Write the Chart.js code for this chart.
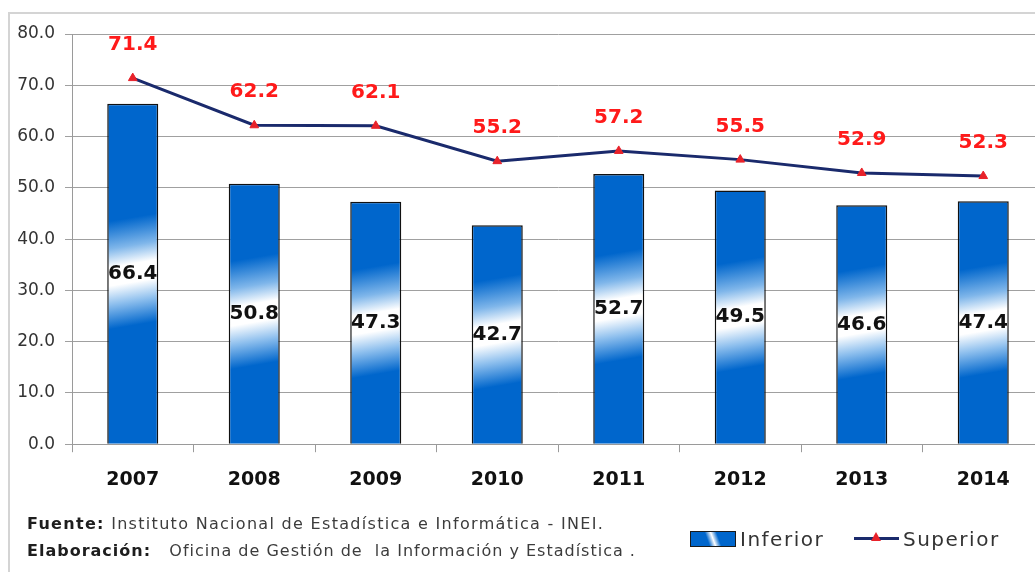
<!DOCTYPE html>
<html>
<head>
<meta charset="utf-8">
<script src="https://cdn.jsdelivr.net/npm/chart.js@4"></script>
<style>
  html, body { margin: 0; padding: 0; background: #fff; overflow: hidden; }
  body { width: 1035px; height: 572px; position: relative; font-family: "DejaVu Sans", sans-serif; }
  #frame { position: absolute; left: 8px; top: 12px; width: 1100px; height: 700px; border: 2px solid #d4d4d4; }
  #wrap { position: absolute; left: 0; top: 0; width: 1052px; height: 572px; }
  .foot { position: absolute; left: 27px; font-size: 16px; color: #3c3c3c; white-space: pre; }
  .foot b { color: #1e1e1e; }
  .leg { position: absolute; top: 527px; font-size: 20px; color: #333; letter-spacing: 1.5px; }
  #legBox { position: absolute; left: 690px; top: 531px; width: 44px; height: 14px; border: 1px solid #1a1a1a;
    background: linear-gradient(70deg, #0066cc 0%, #0066cc 38%, #ffffff 50%, #0066cc 62%, #0066cc 100%); }
  #legLine { position: absolute; left: 854px; top: 537px; width: 45px; height: 3px; background: #1a2a6c; }
  #legTri { position: absolute; left: 871px; top: 532px; width: 0; height: 0;
    border-left: 5px solid transparent; border-right: 5px solid transparent; border-bottom: 9px solid #e8222a; }
</style>
</head>
<body>
<div id="frame"></div>
<div id="wrap"><canvas id="myChart" width="1052" height="572"></canvas></div>
<div class="foot" style="top:514px; letter-spacing:1.3px"><b>Fuente:</b> Instituto Nacional de Estadística e Informática - INEI.</div>
<div class="foot" style="top:541px; letter-spacing:1px"><b>Elaboración:</b>   Oficina de Gestión de  la Información y Estadística .</div>
<div id="legBox"></div>
<div class="leg" style="left:740px">Inferior</div>
<div id="legLine"></div>
<div id="legTri"></div>
<div class="leg" style="left:903px">Superior</div>
<script>
var years = ['2007', '2008', '2009', '2010', '2011', '2012', '2013', '2014'];
var inferior = [66.4, 50.8, 47.3, 42.7, 52.7, 49.5, 46.6, 47.4];
var superior = [71.4, 62.2, 62.1, 55.2, 57.2, 55.5, 52.9, 52.3];
var yTicks = [0, 10, 20, 30, 40, 50, 60, 70, 80];

var BLUE = '#0066cc';

function barGradient(ctx) {
  var chart = ctx.chart;
  if (!chart.chartArea || ctx.type !== 'data') return BLUE;
  var ys = chart.scales.y, xs = chart.scales.x;
  var top = ys.getPixelForValue(ctx.raw), bot = ys.getPixelForValue(0);
  var h = bot - top, cx = xs.getPixelForValue(ctx.dataIndex);
  var g = chart.ctx.createLinearGradient(cx - 0.085 * h, top, cx + 0.085 * h, bot);
  function at(d) { return Math.min(1, Math.max(0, 0.5 + d / h)); }
  g.addColorStop(0, BLUE);
  g.addColorStop(at(-55), BLUE);
  g.addColorStop(at(-28), '#7fb6ea');
  g.addColorStop(at(-10), '#ffffff');
  g.addColorStop(at(8), '#ffffff');
  g.addColorStop(at(26), '#8fc0ee');
  g.addColorStop(at(50), BLUE);
  g.addColorStop(1, BLUE);
  return g;
}

var valueLabels = {
  id: 'valueLabels',
  afterDatasetsDraw: function(chart) {
    var c = chart.ctx;
    c.save();
    c.textAlign = 'center';
    c.textBaseline = 'middle';
    c.font = 'bold 20px "DejaVu Sans"';
    chart.getDatasetMeta(1).data.forEach(function(bar, i) {
      c.fillStyle = '#111';
      c.fillText(inferior[i].toFixed(1), bar.x, (bar.y + bar.base) / 2);
    });
    chart.getDatasetMeta(0).data.forEach(function(pt, i) {
      c.fillStyle = '#ff1a1a';
      c.fillText(superior[i].toFixed(1), pt.x, pt.y - 33);
    });
    c.restore();
  }
};

var ctx = document.getElementById('myChart').getContext('2d');
var myChart = new Chart(ctx, {
  type: 'bar',
  data: {
    labels: years,
    datasets: [{
      type: 'line',
      label: 'Superior',
      data: superior,
      borderColor: '#1a2a6c',
      borderWidth: 3,
      tension: 0,
      pointStyle: 'triangle',
      pointRadius: 5,
      pointBackgroundColor: '#e8222a',
      pointBorderColor: '#e8222a',
      pointBorderWidth: 1,
      order: 0
    }, {
      label: 'Inferior',
      data: inferior,
      backgroundColor: barGradient,
      borderColor: '#111',
      borderWidth: 1.5,
      barPercentage: 0.84,
      categoryPercentage: 0.5,
      order: 1
    }]
  },
  options: {
    responsive: false,
    animation: false,
    layout: { padding: { left: 8, right: 8, top: 34, bottom: 65 } },
    plugins: { legend: { display: false }, tooltip: { enabled: false } },
    scales: {
      x: {
        grid: { drawOnChartArea: false, drawTicks: true, tickLength: 8, color: '#9a9a9a' },
        border: { color: '#9a9a9a' },
        ticks: { padding: 16, color: '#111', font: { family: 'DejaVu Sans', size: 19, weight: 'bold' } }
      },
      y: {
        min: 0,
        max: 80,
        afterBuildTicks: function(s) { s.ticks = yTicks.map(function(v) { return { value: v }; }); },
        afterFit: function(s) { s.width = 64; },
        grid: { color: '#a0a0a0', tickLength: 7 },
        border: { color: '#9a9a9a' },
        ticks: {
          padding: 10,
          color: '#333',
          font: { family: 'DejaVu Sans', size: 17 },
          callback: function(v) { return Number(v).toFixed(1); }
        }
      }
    }
  },
  plugins: [valueLabels]
});
</script>
</body>
</html>
